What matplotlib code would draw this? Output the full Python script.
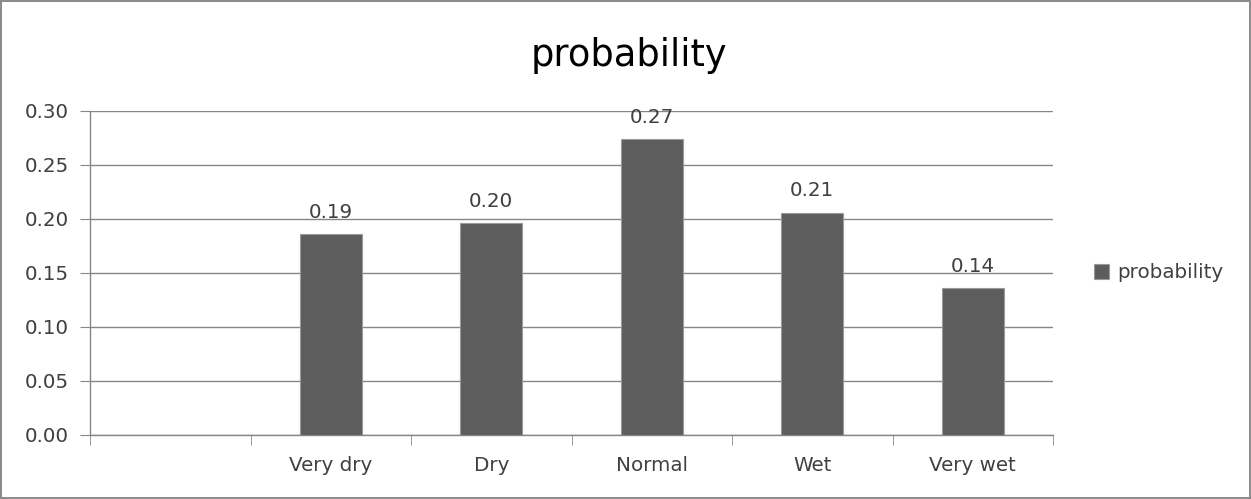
import matplotlib.pyplot as plt
import numpy as np

categories = ["", "Very dry", "Dry", "Normal", "Wet", "Very wet"]
probability = [np.nan, 0.186, 0.196, 0.274, 0.206, 0.136]
y_ticks = [0.00, 0.05, 0.10, 0.15, 0.20, 0.25, 0.30]

plt.rcParams['font.family'] = ['DejaVu Sans']
grey = '#868686'
text_col = '#404040'
fs = 14.3

fig = plt.figure(figsize=(12.51, 4.99), dpi=100)
fig.patch.set_edgecolor('#8c8c8c')
fig.patch.set_linewidth(1.5)
ax = fig.add_axes([90 / 1251, 64 / 499, (1053 - 90) / 1251, (435 - 111) / 499])

x = np.arange(len(categories))
bars = ax.bar(x, probability, width=0.385, color='#5d5d5d', edgecolor='#9a9a9a',
              linewidth=0.8, label='probability', zorder=3)
labels = ['' if np.isnan(v) else f'{v:.2f}' for v in probability]
ax.bar_label(bars, labels=labels, padding=9, fontsize=fs, color=text_col)

ax.set_xlim(-0.5, len(categories) - 0.5)
ax.set_ylim(0, 0.30)
ax.set_yticks(y_ticks)
ax.set_yticklabels([f'{t:.2f}' for t in y_ticks])
ax.set_xticks(x)
ax.set_xticklabels(categories)
ax.set_xticks(list(x - 0.5) + [x[-1] + 0.5], minor=True)

ax.tick_params(axis='x', which='major', length=0, pad=15, labelsize=fs, labelcolor=text_col)
ax.tick_params(axis='x', which='minor', length=7, color=grey, direction='out')
ax.tick_params(axis='y', length=7, color=grey, pad=8, labelsize=fs, labelcolor=text_col)

ax.grid(axis='y', color=grey, linewidth=1, zorder=0)
ax.set_axisbelow(True)
for side in ['top', 'right']:
    ax.spines[side].set_visible(False)
for side in ['left', 'bottom']:
    ax.spines[side].set_color(grey)
    ax.spines[side].set_linewidth(1)

fig.suptitle('probability', x=0.503, y=0.925, fontsize=26.5, color='black')
ax.legend(loc='center left', bbox_to_anchor=(1.024, 0.5), frameon=False,
          fontsize=fs, handlelength=0.75, handleheight=0.75, handletextpad=0.4,
          labelcolor=text_col)

fig.savefig('out.png', dpi=100)
